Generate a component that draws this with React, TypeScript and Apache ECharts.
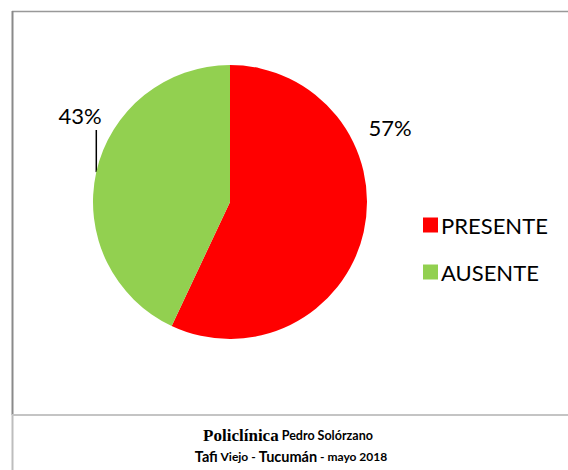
import React, { useEffect, useRef } from "react";
import * as echarts from "echarts";

const categories = ["PRESENTE", "AUSENTE"];
const values = [57, 43];
const colors = ["#FF0000", "#92D050"];
const footerLine1 = ["Policlínica", " Pedro Solórzano"];
const footerLine2 = ["Tafi", " Viejo - ", "Tucumán", " - mayo 2018"];

export default function App() {
  const ref = useRef<HTMLDivElement>(null);
  useEffect(() => {
    if (!ref.current) return;
    const chart = echarts.init(ref.current, null, { renderer: "svg" });
    const font = "Lato, 'Open Sans', sans-serif";
    chart.setOption({
      animation: false,
      backgroundColor: "#ffffff",
      legend: {
        orient: "vertical",
        left: 418,
        top: 209,
        icon: "rect",
        itemWidth: 15,
        itemHeight: 15,
        itemGap: 25,
        textStyle: { fontFamily: font, fontSize: 22, color: "#000", padding: [0, 0, 0, -2] },
        data: categories,
      },
      series: [
        {
          type: "pie",
          center: [230, 202],
          radius: 137,
          startAngle: 90,
          clockwise: true,
          data: categories.map((c, i) => ({
            name: c,
            value: values[i],
            itemStyle: { color: colors[i] },
            labelLine: { show: i === 1, lineStyle: { color: "#000", width: 1.5 } },
          })),
          label: {
            show: true,
            position: "outside",
            formatter: (p: any) => p.value + "%",
            fontFamily: font,
            fontSize: 22,
            color: "#000",
          },
          labelLine: { show: true, length: 10, length2: 10 },
          labelLayout: (p: any) => {
            if (p.dataIndex === 0) {
              return { x: 390, y: 127, align: "center", verticalAlign: "middle" };
            }
            const e = p.labelLinePoints ? p.labelLinePoints[0] : [96, 172];
            return {
              x: 80,
              y: 115,
              align: "center",
              verticalAlign: "middle",
              labelLinePoints: [e, [e[0], 130], [e[0], 130]],
            };
          },
          emphasis: { disabled: true },
        },
      ],
      graphic: [
        { type: "line", shape: { x1: 12, y1: 11.5, x2: 568, y2: 11.5 }, style: { stroke: "#999", lineWidth: 1.5 } },
        { type: "line", shape: { x1: 12.5, y1: 11, x2: 12.5, y2: 415 }, style: { stroke: "#8a8a8a", lineWidth: 2 } },
        { type: "line", shape: { x1: 12.5, y1: 415, x2: 12.5, y2: 470 }, style: { stroke: "#bdbdbd", lineWidth: 2 } },
        { type: "line", shape: { x1: 12, y1: 415, x2: 568, y2: 415 }, style: { stroke: "#c4c4c4", lineWidth: 2 } },
        {
          type: "text",
          x: 288,
          y: 435,
          style: {
            text: "{a|" + footerLine1[0] + "}{b|" + footerLine1[1] + "}",
            align: "center",
            verticalAlign: "middle",
            rich: {
              a: { fontFamily: "'Liberation Serif', 'Times New Roman', serif", fontWeight: "bold", fontSize: 17, fill: "#000" },
              b: { fontFamily: font, fontWeight: "bold", fontSize: 12.5, fill: "#000" },
            },
          },
        },
        {
          type: "text",
          x: 291,
          y: 456,
          style: {
            text: "{c|" + footerLine2[0] + "}{d|" + footerLine2[1] + "}{c|" + footerLine2[2] + "}{d|" + footerLine2[3] + "}",
            align: "center",
            verticalAlign: "middle",
            rich: {
              c: { fontFamily: font, fontWeight: "bold", fontSize: 14.5, fill: "#000" },
              d: { fontFamily: font, fontWeight: "bold", fontSize: 12, fill: "#000" },
            },
          },
        },
      ],
    });
    return () => chart.dispose();
  }, []);
  return (
    <div
      ref={ref}
      style={{ position: "absolute", left: 0, top: 0, width: 568, height: 470 }}
    />
  );
}
